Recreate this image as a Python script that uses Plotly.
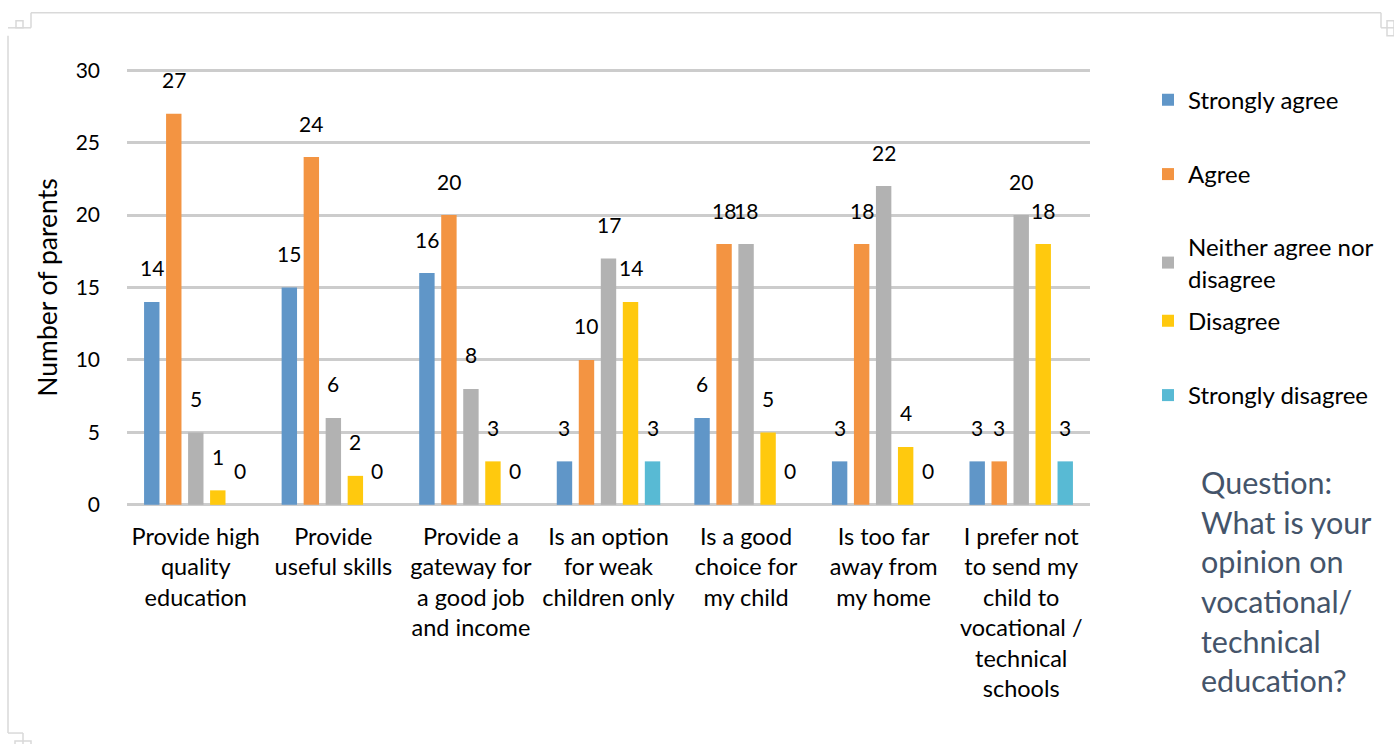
import plotly.graph_objects as go

# Survey categories (x-axis) and response counts per answer option
categories = [
    "Provide high<br>quality<br>education",
    "Provide<br>useful skills",
    "Provide a<br>gateway for<br>a good job<br>and income",
    "Is an option<br>for weak<br>children only",
    "Is a good<br>choice for<br>my child",
    "Is too far<br>away from<br>my home",
    "I prefer not<br>to send my<br>child to<br>vocational /<br>technical<br>schools",
]
series_names = ["Strongly agree", "Agree", "Neither agree nor<br>disagree", "Disagree", "Strongly disagree"]
strongly_agree = [14, 15, 16, 3, 6, 3, 3]
agree = [27, 24, 20, 10, 18, 18, 3]
neutral = [5, 6, 8, 17, 18, 22, 20]
disagree = [1, 2, 3, 14, 5, 4, 18]
strongly_disagree = [0, 0, 0, 3, 0, 0, 3]
y_ticks = [0, 5, 10, 15, 20, 25, 30]

series_values = [strongly_agree, agree, neutral, disagree, strongly_disagree]
colors = ["#6096C8", "#F39442", "#B2B2B2", "#FFC90E", "#58BAD4"]

W, H = 1394, 744
ML, MR, MT, MB = 127, 304, 70, 239
PW, PH = W - ML - MR, H - MT - MB
FONT = "Lato, 'Open Sans', sans-serif"
Y_MIN, Y_MAX = -0.08, 30.08


def px(xp):
    return (xp - ML) / PW


def py(yp):
    return (H - MB - yp) / PH


BARGAP = 0.2
n_series = len(series_values)
slot = (1 - BARGAP) / n_series
xs = list(range(len(categories)))

# vertical centre (in pixels) of each legend entry
legend_centres = [101, 175, 263, 321, 395]

fig = go.Figure()
layout_legends = {}
for k, (name, vals, col) in enumerate(zip(series_names, series_values, colors)):
    lname = "legend" if k == 0 else f"legend{k + 1}"
    fig.add_trace(go.Bar(
        x=xs, y=vals, name=name, marker=dict(color=col, line=dict(width=0)),
        legend=lname,
    ))
    layout_legends[lname] = dict(
        x=px(1148), y=py(legend_centres[k]), xanchor="left", yanchor="middle",
        font=dict(family=FONT, size=24, color="#000000"),
        itemwidth=30, bgcolor="rgba(0,0,0,0)",
    )
    # value labels sitting above each bar
    for i, v in enumerate(vals):
        fig.add_annotation(
            x=i + (k - (n_series - 1) / 2) * slot, y=v, xref="x", yref="y",
            text=str(v), showarrow=False, yanchor="middle", yshift=34,
            font=dict(family=FONT, size=21, color="#000000"),
        )

# question text on the right side
fig.add_annotation(
    x=px(1199), y=py(461), xref="paper", yref="paper", xanchor="left", yanchor="top",
    align="left", showarrow=False,
    text="Question:<br>What is your<br>opinion on<br>vocational/<br>technical<br>education?",
    font=dict(family=FONT, size=30.5, color="#44546A"),
)

# thin slide frame with corner marks
frame = dict(color="#D9D9D9", width=1.5)
segments = [
    (31, 14, 1381, 14), (1381, 14, 1381, 29), (1381, 29, 1394, 29),
    (31, 14, 31, 29), (31, 29, 8, 29), (8, 37, 8, 731), (8, 731, 23, 731),
    (23, 731, 23, 744),
]
for x0, y0, x1, y1 in segments:
    fig.add_shape(type="line", xref="paper", yref="paper",
                  x0=px(x0), y0=py(y0), x1=px(x1), y1=py(y1), line=frame)
for x0, y0, x1, y1 in [(16, 22, 23, 29), (1387, 22, 1394, 37), (15, 739, 31, 744)]:
    fig.add_shape(type="rect", xref="paper", yref="paper",
                  x0=px(x0), y0=py(y0), x1=px(x1), y1=py(y1), line=frame)

fig.update_layout(
    width=W, height=H,
    margin=dict(l=ML, r=MR, t=MT - 1, b=MB - 1),
    paper_bgcolor="white", plot_bgcolor="white",
    barmode="group", bargap=BARGAP, bargroupgap=0.3,
    font=dict(family=FONT, size=21, color="#000000"),
    showlegend=True,
    xaxis=dict(
        range=[-0.5, len(categories) - 0.5], tickvals=xs, ticktext=categories,
        showgrid=False, zeroline=False, showline=False, ticks="",
        tickfont=dict(family=FONT, size=23.5), tickangle=0,
        ticklabelstandoff=14,
    ),
    yaxis=dict(
        range=[Y_MIN, Y_MAX], tickvals=y_ticks, showgrid=True, gridcolor="#CCCCCC",
        gridwidth=3, zeroline=False, showline=False, ticks="",
        ticklabelstandoff=26,
        tickfont=dict(family=FONT, size=21),
        title=dict(text="Number of parents", font=dict(family=FONT, size=26.5), standoff=10),
    ),
    **layout_legends,
)

fig.write_html("out.html")
